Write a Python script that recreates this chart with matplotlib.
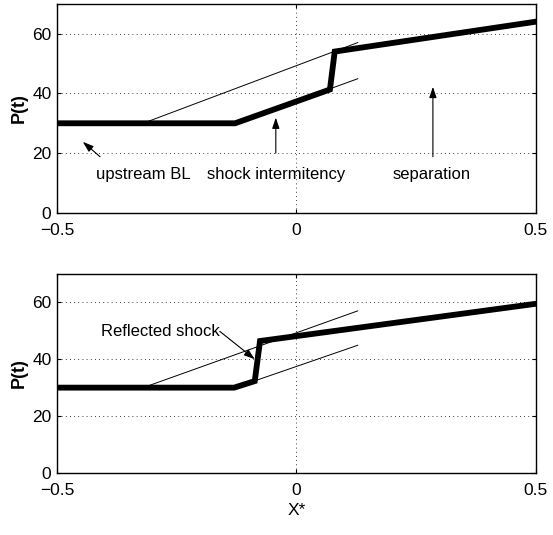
import matplotlib.pyplot as plt

plt.rcParams['font.family'] = ['Liberation Sans', 'DejaVu Sans']

# mean pressure distribution, top panel (shock intermittency + separation)
x_top = [-0.5, -0.128, 0.07, 0.08, 0.5]
p_top = [30, 30, 41.3, 54, 64]
# mean pressure distribution, bottom panel (reflected shock)
x_bot = [-0.5, -0.13, -0.087, -0.076, 0.5]
p_bot = [30, 30, 32.3, 46.4, 59.5]
# thin reference lines (same in both panels)
upper_x = [-0.32, 0.128]
upper_p = [30, 57]
lower_x = [-0.128, 0.128]
lower_p = [30, 44.9]

xticks = [-0.5, 0, 0.5]
xticklabels = ['\u22120.5', '0', '0.5']
yticks = [0, 20, 40, 60]

fig = plt.figure(figsize=(5.53, 5.35), dpi=100)
ax1 = fig.add_axes([0.103, 0.602, 0.866, 0.391])
ax2 = fig.add_axes([0.103, 0.116, 0.866, 0.372])

for ax, xs, ps in [(ax1, x_top, p_top), (ax2, x_bot, p_bot)]:
    ax.plot(upper_x, upper_p, color='black', lw=0.7)
    ax.plot(lower_x, lower_p, color='black', lw=0.7)
    ax.plot(xs, ps, color='black', lw=4.2, solid_joinstyle='miter')
    ax.set_xlim(-0.5, 0.5)
    ax.set_ylim(0, 70)
    ax.set_xticks(xticks)
    ax.set_xticklabels(xticklabels)
    ax.set_yticks(yticks)
    ax.tick_params(direction='in', length=3, labelsize=12.5, top=True, right=True, pad=4)
    ax.tick_params(axis='x', pad=7)
    ax.grid(True, linestyle=(0, (1, 4)), color='black', lw=0.6)
    for s in ax.spines.values():
        s.set_linewidth(1.0)
    ax.set_ylabel('P(t)', fontsize=13, fontweight='bold', labelpad=3)

arrow = dict(arrowstyle='-|>,head_length=0.65,head_width=0.22', color='black', lw=0.8,
             mutation_scale=10, shrinkA=0, shrinkB=0)
ax1.text(-0.32, 12.7, 'upstream BL', fontsize=12, ha='center', va='center')
ax1.annotate('', xy=(-0.446, 23.8), xytext=(-0.41, 18.8), arrowprops=arrow)
ax1.text(-0.043, 12.7, 'shock intermitency', fontsize=12, ha='center', va='center')
ax1.annotate('', xy=(-0.043, 31.9), xytext=(-0.043, 20), arrowprops=arrow)
ax1.text(0.283, 12.7, 'separation', fontsize=12, ha='center', va='center')
ax1.annotate('', xy=(0.285, 42.2), xytext=(0.285, 18.8), arrowprops=arrow)

ax2.text(-0.16, 49.8, 'Reflected shock', fontsize=12, ha='right', va='center')
ax2.annotate('', xy=(-0.087, 40), xytext=(-0.16, 49.8), arrowprops=arrow)
ax2.set_xlabel('X*', fontsize=12.5, labelpad=4)

fig.savefig('out.png', dpi=100)
